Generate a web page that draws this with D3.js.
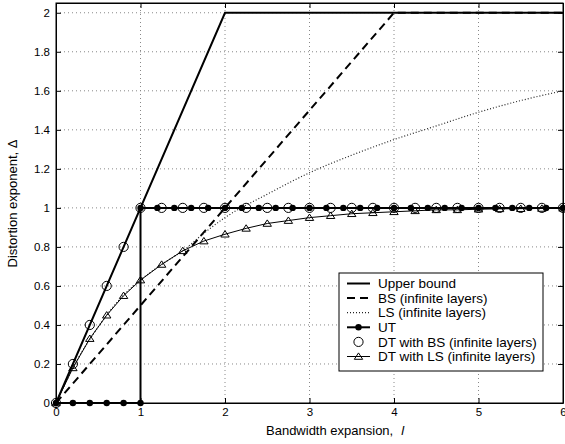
<!DOCTYPE html>
<html>
<head>
<meta charset="utf-8">
<script src="https://cdn.jsdelivr.net/npm/d3@7"></script>
<style>
  body { margin: 0; background: #fff; }
  svg { display: block; font-family: "Liberation Sans", Arial, sans-serif; }
</style>
</head>
<body>
<div id="chart"></div>
<script>
// data
var ubX = [0, 2, 6], ubY = [0, 2, 2];
var bsX = [0, 4, 6], bsY = [0, 2, 2];
var lsX = [0, 0.25, 0.5, 0.75, 1, 1.25, 1.5, 1.75, 2, 2.5, 3, 3.5, 4, 4.5, 5, 5.5, 6];
var lsY = [0, 0.22, 0.39, 0.53, 0.63, 0.71, 0.78, 0.87, 0.95, 1.07, 1.18, 1.27, 1.35, 1.42, 1.49, 1.55, 1.6];
var utX = [0, 0.2, 0.4, 0.6, 0.8, 1, 1, 1.2, 1.4, 1.6, 1.8, 2, 2.2, 2.4, 2.6, 2.8, 3, 3.2, 3.4, 3.6, 3.8,
           4, 4.2, 4.4, 4.6, 4.8, 5, 5.2, 5.4, 5.6, 5.8, 6];
var utY = [0, 0, 0, 0, 0, 0, 1, 1, 1, 1, 1, 1, 1, 1, 1, 1, 1, 1, 1, 1, 1,
           1, 1, 1, 1, 1, 1, 1, 1, 1, 1, 1];
var dtX = [0, 0.2, 0.4, 0.6, 0.8, 1, 1.25, 1.5, 1.75, 2, 2.25, 2.5, 2.75, 3, 3.25, 3.5, 3.75,
           4, 4.25, 4.5, 4.75, 5, 5.25, 5.5, 5.75, 6];
var dtbsY = [0, 0.2, 0.4, 0.6, 0.8, 1, 1, 1, 1, 1, 1, 1, 1, 1, 1, 1, 1,
             1, 1, 1, 1, 1, 1, 1, 1, 1];
var dtlsY = [0, 0.18, 0.33, 0.45, 0.55, 0.63, 0.71, 0.78, 0.83, 0.865, 0.895, 0.92, 0.935, 0.95, 0.96, 0.97, 0.975,
             0.98, 0.985, 0.99, 0.99, 0.993, 0.995, 0.996, 0.997, 0.998];
var xTicks = [0, 1, 2, 3, 4, 5, 6];
var yTicks = [0, 0.2, 0.4, 0.6, 0.8, 1, 1.2, 1.4, 1.6, 1.8, 2];
var legendNames = ['Upper bound', 'BS (infinite layers)', 'LS (infinite layers)', 'UT',
                   'DT with BS (infinite layers)', 'DT with LS (infinite layers)'];

var width = 565, height = 444;
var margin = {left: 56, right: 2, top: 3, bottom: 41};

var svg = d3.select('#chart').append('svg')
  .attr('width', width)
  .attr('height', height);

var x = d3.scaleLinear().domain([0, 6]).range([margin.left, width - margin.right]);
var y = d3.scaleLinear().domain([0, 2.05]).range([height - margin.bottom, margin.top]);

function zip(xs, ys) { return xs.map(function(v, i) { return [v, ys[i]]; }); }
var line = d3.line().x(function(d) { return x(d[0]); }).y(function(d) { return y(d[1]); });
var tri = 'M0,-3.6L4.2,2.8L-4.2,2.8Z';

// grid
var grid = svg.append('g').attr('stroke', '#888').attr('stroke-width', 1).attr('stroke-dasharray', '1,3');
grid.selectAll('.gx').data(xTicks.slice(1, -1)).enter().append('line')
  .attr('x1', d => x(d)).attr('x2', d => x(d))
  .attr('y1', y.range()[0]).attr('y2', y.range()[1]);
grid.selectAll('.gy').data(yTicks.slice(1)).enter().append('line')
  .attr('y1', d => y(d)).attr('y2', d => y(d))
  .attr('x1', x.range()[0]).attr('x2', x.range()[1]);

// axes, ticks inward on all sides
var fmt = d3.format('~g');
svg.append('g').attr('transform', 'translate(0,' + y(0) + ')')
  .call(d3.axisBottom(x).tickValues(xTicks).tickSize(-5).tickSizeOuter(0).tickPadding(5).tickFormat(fmt));
svg.append('g').attr('transform', 'translate(' + x(0) + ',0)')
  .call(d3.axisLeft(y).tickValues(yTicks).tickSize(-5).tickSizeOuter(0).tickPadding(6).tickFormat(fmt));
svg.append('g').attr('transform', 'translate(0,' + y.range()[1] + ')')
  .call(d3.axisTop(x).tickValues(xTicks).tickSize(-5).tickSizeOuter(0).tickFormat(''));
svg.append('g').attr('transform', 'translate(' + x(6) + ',0)')
  .call(d3.axisRight(y).tickValues(yTicks).tickSize(-5).tickSizeOuter(0).tickFormat(''));
svg.selectAll('.tick text').attr('font-size', 11.5).attr('fill', '#000')
  .attr('font-family', '"Liberation Sans", Arial, sans-serif');

// curves
svg.append('path').datum(zip(ubX, ubY)).attr('d', line)
  .attr('fill', 'none').attr('stroke', '#000').attr('stroke-width', 2);
svg.append('path').datum(zip(bsX, bsY)).attr('d', line)
  .attr('fill', 'none').attr('stroke', '#000').attr('stroke-width', 2).attr('stroke-dasharray', '8,5');
svg.append('path').datum(zip(lsX, lsY)).attr('d', line.curve(d3.curveMonotoneX))
  .attr('fill', 'none').attr('stroke', '#222').attr('stroke-width', 1.2).attr('stroke-dasharray', '1,2');
line.curve(d3.curveLinear);

var ut = zip(utX, utY);
svg.append('path').datum(ut).attr('d', line)
  .attr('fill', 'none').attr('stroke', '#000').attr('stroke-width', 2);
svg.append('g').selectAll('circle').data(ut).enter().append('circle')
  .attr('cx', d => x(d[0])).attr('cy', d => y(d[1])).attr('r', 3.2).attr('fill', '#000');

svg.append('g').selectAll('circle').data(zip(dtX, dtbsY)).enter().append('circle')
  .attr('cx', d => x(d[0])).attr('cy', d => y(d[1])).attr('r', 4.6)
  .attr('fill', 'none').attr('stroke', '#000').attr('stroke-width', 1);

var dtls = zip(dtX, dtlsY);
svg.append('path').datum(dtls).attr('d', line)
  .attr('fill', 'none').attr('stroke', '#000').attr('stroke-width', 1);
svg.append('g').selectAll('path').data(dtls).enter().append('path')
  .attr('d', tri)
  .attr('transform', d => 'translate(' + x(d[0]) + ',' + y(d[1]) + ')')
  .attr('fill', 'none').attr('stroke', '#000').attr('stroke-width', 1);

// frame
svg.append('rect')
  .attr('x', x(0)).attr('y', y.range()[1])
  .attr('width', x(6) - x(0)).attr('height', y(0) - y.range()[1])
  .attr('fill', 'none').attr('stroke', '#000').attr('stroke-width', 1);

// legend
var lg = svg.append('g').attr('transform', 'translate(339,273)');
lg.append('rect').attr('width', 204).attr('height', 98)
  .attr('fill', '#fff').attr('stroke', '#000').attr('stroke-width', 1);
var rows = lg.selectAll('.row').data(legendNames).enter().append('g')
  .attr('transform', (d, i) => 'translate(0,' + (10.5 + i * 14.6) + ')');
rows.append('text').attr('x', 39).attr('y', 0).attr('dy', '0.35em')
  .attr('font-size', 13.5).attr('fill', '#000').text(d => d);
rows.each(function(d, i) {
  var g = d3.select(this);
  if (i === 0 || i === 1 || i === 3) {
    g.append('line').attr('x1', 8).attr('x2', 31).attr('stroke', '#000').attr('stroke-width', 2)
      .attr('stroke-dasharray', i === 1 ? '8,5' : null);
  }
  if (i === 2) {
    g.append('line').attr('x1', 8).attr('x2', 31).attr('stroke', '#222').attr('stroke-width', 1.2)
      .attr('stroke-dasharray', '1,2');
  }
  if (i === 3) g.append('circle').attr('cx', 19.5).attr('r', 3.2).attr('fill', '#000');
  if (i === 4) g.append('circle').attr('cx', 19.5).attr('r', 4.6).attr('fill', 'none').attr('stroke', '#000');
  if (i === 5) {
    g.append('line').attr('x1', 8).attr('x2', 31).attr('stroke', '#000').attr('stroke-width', 1);
    g.append('path').attr('d', tri).attr('transform', 'translate(19.5,0)')
      .attr('fill', 'none').attr('stroke', '#000');
  }
});

// axis labels
var xl = svg.append('text').attr('x', 266).attr('y', 435).attr('font-size', 13).attr('fill', '#000')
  .attr('xml:space', 'preserve');
xl.append('tspan').text('Bandwidth expansion,');
xl.append('tspan').attr('dx', 8).attr('font-style', 'italic').text('l');

svg.append('text').attr('transform', 'translate(17,203.5) rotate(-90)')
  .attr('text-anchor', 'middle').attr('font-size', 13).attr('fill', '#000')
  .text('Distortion exponent, \u0394');
</script>
</body>
</html>
